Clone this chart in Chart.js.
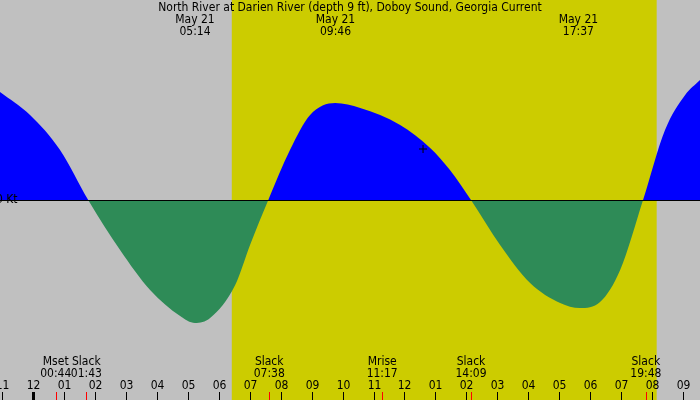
<!DOCTYPE html>
<html><head><meta charset="utf-8">
<script src="https://cdn.jsdelivr.net/npm/chart.js@4"></script>
<style>body{margin:0;background:#c0c0c0}#wrap{width:700px;height:400px}</style>
</head><body><div id="wrap"><canvas id="chart"></canvas></div>
<script>
// hours from midnight May 21, current in knots (flood +, ebb -)
var hours = [-1.07, -0.10, 0.87, 1.78, 2.81, 3.78, 4.75, 5.23, 5.72, 6.53, 7.01, 7.60,
             8.30, 8.95, 9.76, 10.57, 11.86, 12.83, 13.47, 14.15,
             15.09, 16.06, 17.03, 17.67, 18.32, 18.97, 19.71, 20.42, 21.07, 21.55];
var knots = [1.08, 0.85, 0.5, 0, -0.5, -0.9, -1.16, -1.23, -1.18, -0.85, -0.45, 0,
             0.5, 0.85, 0.97, 0.92, 0.75, 0.52, 0.3, 0,
             -0.45, -0.83, -1.03, -1.08, -1.02, -0.7, 0, 0.7, 1.05, 1.2];
var hourLabels = ['11','12','01','02','03','04','05','06','07','08','09','10','11',
                  '12','01','02','03','04','05','06','07','08','09'];
var events = [['Mset', '00:44', 0.73], ['Slack', '01:43', 1.72], ['Slack', '07:38', 7.63],
              ['Mrise', '11:17', 11.28], ['Slack', '14:09', 14.15], ['Slack', '19:48', 19.8]];
var topLabels = [['May 21', '05:14', 5.23], ['May 21', '09:46', 9.77], ['May 21', '17:37', 17.62], ['May 21', '', 22.3]];
var sunrise = 6.42, sunset = 20.15;

var pts = hours.map(function (h, i) { return {x: h, y: knots[i]}; });

var backdrop = {
    id: 'backdrop',
    beforeDraw: function (c) {
        var g = c.ctx, xs = c.scales.x, ys = c.scales.y;
        g.save();
        g.fillStyle = '#c0c0c0';
        g.fillRect(0, 0, c.width, c.height);
        g.fillStyle = '#cccc00';
        g.fillRect(xs.getPixelForValue(sunrise), 0, xs.getPixelForValue(sunset) - xs.getPixelForValue(sunrise), c.height);
        g.restore();
    },
    afterDraw: function (c) {
        var g = c.ctx, xs = c.scales.x, ys = c.scales.y;
        g.save();
        var y0 = ys.getPixelForValue(0);
        g.strokeStyle = '#000'; g.lineWidth = 1;
        g.beginPath(); g.moveTo(0, y0 + 0.5); g.lineTo(700, y0 + 0.5); g.stroke();
        g.fillStyle = '#000';
        g.font = '12px "DejaVu Sans Condensed", "Liberation Sans", sans-serif';
        g.textBaseline = 'middle';
        g.textAlign = 'left';
        g.fillText('0 Kt', -4, y0);
        g.textAlign = 'center';
        g.fillText('North River at Darien River (depth 9 ft), Doboy Sound, Georgia Current', 350, 8);
        topLabels.forEach(function (t) {
            var x = xs.getPixelForValue(t[2]);
            g.fillText(t[0], x, 20);
            if (t[1]) g.fillText(t[1], x, 32);
        });
        for (var i = 0; i < hourLabels.length; i++) {
            var h = i - 1, x = Math.round(xs.getPixelForValue(h)) + 0.5;
            g.fillText(hourLabels[i], x, 386);
            g.lineWidth = (h === 0) ? 3 : 1;
            g.strokeStyle = '#000';
            g.beginPath(); g.moveTo(x, 392); g.lineTo(x, 400); g.stroke();
        }
        events.forEach(function (e) {
            var x = xs.getPixelForValue(e[2]);
            g.fillStyle = '#000';
            g.fillText(e[0], x, 362);
            g.fillText(e[1], x, 374);
            g.strokeStyle = '#ff0000'; g.lineWidth = 1;
            g.beginPath(); g.moveTo(Math.round(x) + 0.5, 392); g.lineTo(Math.round(x) + 0.5, 400); g.stroke();
        });
        g.strokeStyle = '#000'; g.lineWidth = 1;
        var px = xs.getPixelForValue(12.6), py = ys.getPixelForValue(0.51);
        g.beginPath(); g.moveTo(px - 4, py); g.lineTo(px + 4, py); g.moveTo(px, py - 4); g.lineTo(px, py + 4); g.stroke();
        g.restore();
    }
};

new Chart(document.getElementById('chart'), {
    type: 'line',
    data: {
        datasets: [{
            data: pts,
            borderWidth: 0,
            pointRadius: 0,
            cubicInterpolationMode: 'monotone',
            fill: {target: 'origin', above: '#0000ff', below: '#2e8b57'}
        }]
    },
    options: {
        responsive: true,
        maintainAspectRatio: false,
        animation: false,
        layout: {padding: 0},
        plugins: {legend: {display: false}, tooltip: {enabled: false}},
        scales: {
            x: {type: 'linear', min: -1.07, max: 21.55, display: false},
            y: {min: -2, max: 2, display: false}
        }
    },
    plugins: [backdrop]
});
</script></body></html>
